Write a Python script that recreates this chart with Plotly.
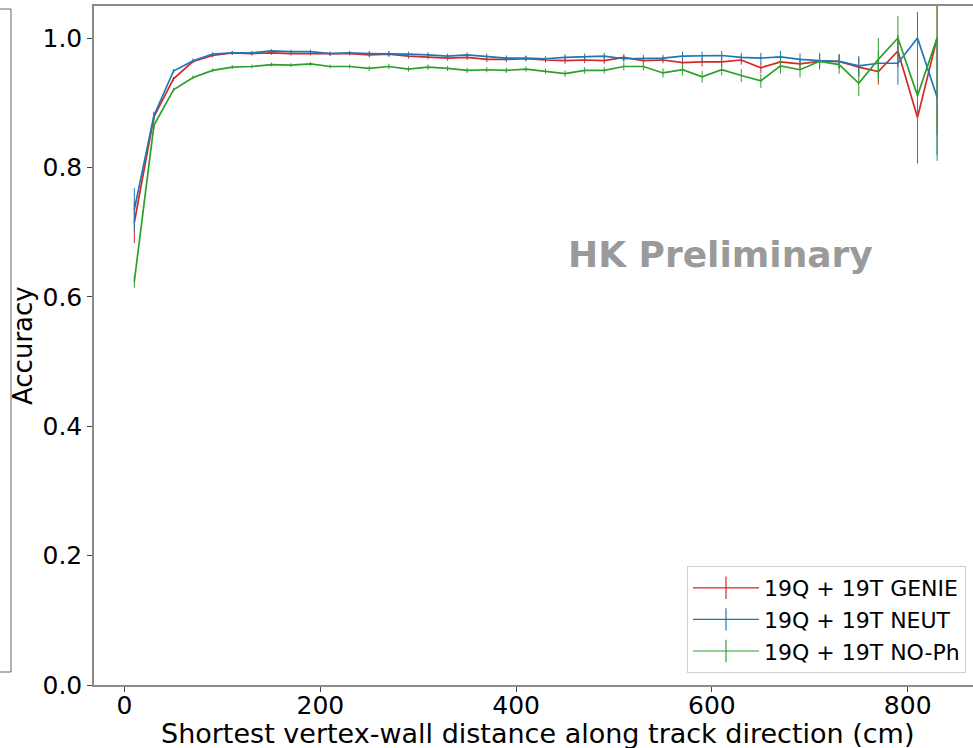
import plotly.graph_objects as go

# Shortest vertex-wall distance bin centres (cm)
distance = list(range(10, 850, 20))

genie = [0.715, 0.878, 0.937, 0.964, 0.973, 0.977, 0.976, 0.977, 0.976, 0.976,
         0.975, 0.976, 0.974, 0.975, 0.972, 0.971, 0.969, 0.970, 0.967, 0.967,
         0.968, 0.966, 0.965, 0.966, 0.965, 0.970, 0.965, 0.966, 0.962, 0.963,
         0.963, 0.966, 0.954, 0.963, 0.960, 0.964, 0.964, 0.955, 0.948, 0.980,
         0.877, 1.000]
genie_err = [0.032, 0.006, 0.003, 0.003, 0.003, 0.003, 0.003, 0.003, 0.003, 0.003,
             0.003, 0.003, 0.004, 0.004, 0.004, 0.004, 0.004, 0.004, 0.004, 0.004,
             0.004, 0.004, 0.005, 0.005, 0.005, 0.005, 0.005, 0.005, 0.007, 0.007,
             0.007, 0.007, 0.008, 0.009, 0.009, 0.010, 0.011, 0.015, 0.020, 0.025,
             0.071, 0.150]

neut = [0.735, 0.880, 0.949, 0.965, 0.975, 0.977, 0.977, 0.980, 0.979, 0.979,
        0.976, 0.977, 0.976, 0.976, 0.975, 0.974, 0.972, 0.974, 0.972, 0.969,
        0.969, 0.968, 0.970, 0.971, 0.972, 0.968, 0.969, 0.969, 0.972, 0.972,
        0.973, 0.970, 0.969, 0.971, 0.967, 0.965, 0.964, 0.957, 0.961, 0.961,
        1.000, 0.909]
neut_err = [0.033, 0.006, 0.003, 0.003, 0.003, 0.003, 0.003, 0.003, 0.003, 0.003,
            0.003, 0.003, 0.004, 0.004, 0.004, 0.004, 0.004, 0.004, 0.004, 0.004,
            0.004, 0.004, 0.005, 0.005, 0.005, 0.005, 0.005, 0.005, 0.007, 0.007,
            0.007, 0.007, 0.008, 0.009, 0.009, 0.010, 0.011, 0.015, 0.020, 0.033,
            0.040, 0.090]

noph = [0.624, 0.865, 0.920, 0.939, 0.950, 0.955, 0.956, 0.959, 0.958, 0.960,
        0.956, 0.956, 0.953, 0.956, 0.952, 0.955, 0.953, 0.950, 0.951, 0.950,
        0.952, 0.949, 0.945, 0.950, 0.950, 0.956, 0.956, 0.946, 0.951, 0.940,
        0.951, 0.942, 0.934, 0.957, 0.951, 0.964, 0.959, 0.930, 0.967, 1.000,
        0.911, 1.000]
noph_err = [0.010, 0.006, 0.003, 0.003, 0.003, 0.003, 0.003, 0.003, 0.003, 0.003,
            0.003, 0.003, 0.004, 0.004, 0.004, 0.004, 0.004, 0.004, 0.004, 0.004,
            0.004, 0.004, 0.005, 0.005, 0.005, 0.006, 0.006, 0.007, 0.009, 0.009,
            0.009, 0.010, 0.011, 0.012, 0.012, 0.013, 0.014, 0.020, 0.033, 0.034,
            0.100, 0.190]

series = [
    ("19Q + 19T GENIE", genie, genie_err, "#d62728"),
    ("19Q + 19T NEUT", neut, neut_err, "#1f77b4"),
    ("19Q + 19T NO-Ph", noph, noph_err, "#2ca02c"),
]

FONT = "DejaVu Sans"
W, H = 973, 748
ML, MR, MT, MB = 94, 0, 6, 63
PW, PH = W - ML - MR, H - MT - MB


def px_x(px):
    """pixel column -> paper x"""
    return (px - ML) / PW


def px_y(py):
    """pixel row -> paper y"""
    return (H - MB - py) / PH


fig = go.Figure()

for name, vals, errs, color in series:
    fig.add_trace(go.Scatter(
        x=distance, y=vals, mode="lines", name=name, showlegend=False,
        line=dict(color=color, width=1.7),
        error_y=dict(type="data", array=errs, visible=True,
                     color=color, thickness=1, width=0),
    ))

# legend entries drawn as errorbar-style crosses
for name, vals, errs, color in series:
    fig.add_trace(go.Scatter(
        x=[None], y=[None], mode="lines+markers", name=name,
        legendgroup=name,
        line=dict(color=color, width=1.2),
        marker=dict(symbol="line-ns", size=16, color=color,
                    line=dict(color=color, width=1.2)),
    ))

fig.add_annotation(
    x=609, y=0.665, xref="x", yref="y", text="<b>HK Preliminary</b>",
    showarrow=False, font=dict(family="DejaVu Sans", size=36, color="#9a9a9a"),
    xanchor="center", yanchor="middle",
)

# axis titles
fig.add_annotation(
    x=px_x(537), y=px_y(733), xref="paper", yref="paper",
    text="Shortest vertex-wall distance along track direction (cm)",
    showarrow=False, font=dict(family=FONT, size=27, color="black"),
    xanchor="center", yanchor="middle",
)
fig.add_annotation(
    x=px_x(23), y=px_y(346), xref="paper", yref="paper",
    text="Accuracy", textangle=-90,
    showarrow=False, font=dict(family=FONT, size=26, color="black"),
    xanchor="center", yanchor="middle",
)

# edge of the neighbouring panel frame on the left
for x0, y0, x1, y1 in [(11, 672, 11, 9), (-5, 9, 11, 9), (-5, 672, 11, 672)]:
    fig.add_shape(type="line", xref="paper", yref="paper",
                  x0=px_x(x0), y0=px_y(y0), x1=px_x(x1), y1=px_y(y1),
                  line=dict(color="#666666", width=1))

fig.update_layout(
    width=W, height=H,
    margin=dict(l=ML, r=MR, t=MT, b=MB),
    paper_bgcolor="white", plot_bgcolor="white",
    font=dict(family=FONT, color="black"),
    showlegend=True,
    legend=dict(
        x=px_x(966), y=px_y(673), xanchor="right", yanchor="bottom",
        bgcolor="white", bordercolor="#d0d0d0", borderwidth=1,
        font=dict(family=FONT, size=22, color="black"),
        tracegroupgap=0, itemwidth=66,
    ),
    xaxis=dict(
        range=[-31.2, 866.7], tickvals=[0, 200, 400, 600, 800],
        showgrid=False, zeroline=False,
        showline=True, linecolor="#8a8a8a", linewidth=1.5, mirror=True,
        ticks="outside", ticklen=5, tickwidth=1, tickcolor="#444",
        tickfont=dict(family=FONT, size=25),
        ticklabelstandoff=-8,
    ),
    yaxis=dict(
        range=[0, 1.0495], tickvals=[0.0, 0.2, 0.4, 0.6, 0.8, 1.0],
        tickformat=".1f",
        showgrid=False, zeroline=False,
        showline=True, linecolor="#8a8a8a", linewidth=1.5, mirror=False,
        ticks="outside", ticklen=5, tickwidth=1, tickcolor="#444",
        tickfont=dict(family=FONT, size=25),
    ),
)

fig.write_html("out.html")
